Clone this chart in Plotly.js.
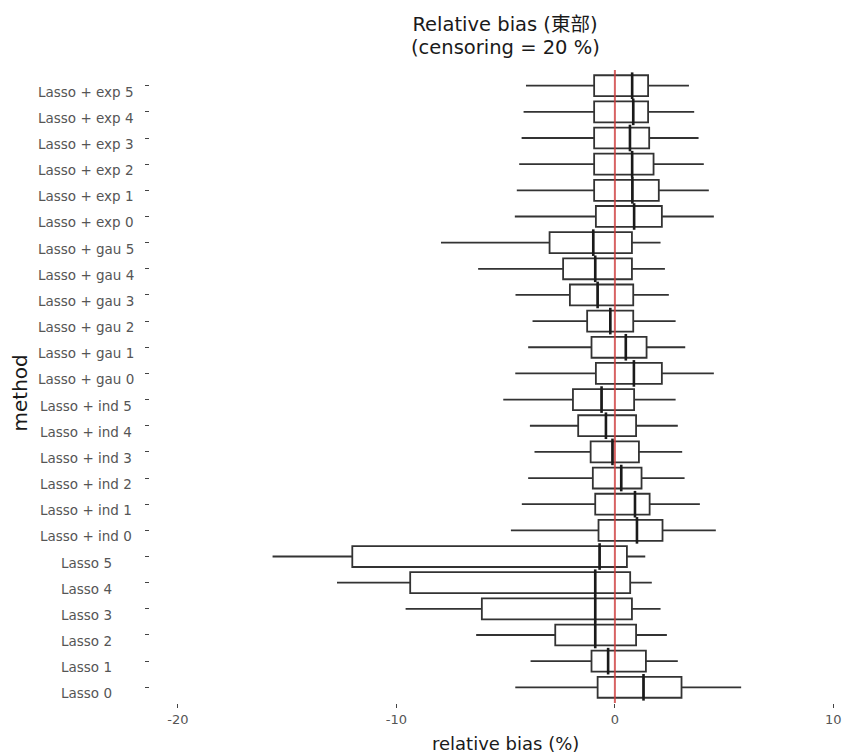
<!DOCTYPE html>
<html>
<head>
<meta charset="utf-8">
<script src="https://cdn.plot.ly/plotly-3.0.1.min.js"></script>
<style>html,body{margin:0;padding:0;background:#fff;}#chart{width:843px;height:754px;}</style>
</head>
<body>
<div id="chart"></div>
<script>
// Categories from bottom to top
const methods = [
  "Lasso 0","Lasso 1","Lasso 2","Lasso 3","Lasso 4","Lasso 5",
  "Lasso + ind 0","Lasso + ind 1","Lasso + ind 2","Lasso + ind 3","Lasso + ind 4","Lasso + ind 5",
  "Lasso + gau 0","Lasso + gau 1","Lasso + gau 2","Lasso + gau 3","Lasso + gau 4","Lasso + gau 5",
  "Lasso + exp 0","Lasso + exp 1","Lasso + exp 2","Lasso + exp 3","Lasso + exp 4","Lasso + exp 5"
];
const lowerWhisker = [-4.56,-3.86,-6.35,-9.58,-12.72,-15.67,
  -4.76,-4.26,-3.97,-3.68,-3.89,-5.11,
  -4.56,-3.97,-3.77,-4.55,-6.26,-7.96,
  -4.58,-4.49,-4.38,-4.27,-4.18,-4.07];
const q1 = [-0.79,-1.07,-2.73,-6.09,-9.37,-12.02,
  -0.75,-0.90,-1.01,-1.11,-1.68,-1.92,
  -0.87,-1.07,-1.27,-2.06,-2.37,-2.99,
  -0.87,-0.95,-0.95,-0.95,-0.95,-0.95];
const medians = [1.31,-0.31,-0.90,-0.90,-0.90,-0.70,
  1.01,0.92,0.29,-0.11,-0.41,-0.61,
  0.87,0.50,-0.21,-0.79,-0.90,-0.99,
  0.88,0.80,0.79,0.69,0.84,0.79];
const q3 = [3.05,1.42,0.97,0.78,0.70,0.55,
  2.18,1.59,1.22,1.10,0.97,0.88,
  2.15,1.45,0.84,0.84,0.78,0.78,
  2.15,2.01,1.77,1.57,1.52,1.52];
const upperWhisker = [5.78,2.88,2.38,2.09,1.69,1.39,
  4.62,3.89,3.19,3.08,2.88,2.78,
  4.53,3.22,2.78,2.47,2.29,2.09,
  4.53,4.30,4.07,3.83,3.63,3.39];
const xTicks = [-20,-10,0,10];
const referenceLine = 0;
const titleLine1 = 'Relative bias (東部)';
const titleLine2 = '(censoring = 20 %)';
const xTitle = 'relative bias (%)';
const yTitle = 'method';

const fontFam = "'DejaVu Sans', 'Noto Sans CJK TC', sans-serif";

const boxTrace = {
  type: 'box',
  orientation: 'h',
  y: methods,
  q1: q1,
  median: medians,
  q3: q3,
  lowerfence: lowerWhisker,
  upperfence: upperWhisker,
  boxpoints: false,
  whiskerwidth: 0,
  width: 0.8,
  fillcolor: '#ffffff',
  line: {color: '#333333', width: 1.8},
  showlegend: false,
  hoverinfo: 'skip'
};
const medianTrace = {
  type: 'scatter',
  mode: 'markers',
  x: medians,
  y: methods,
  marker: {symbol: 'line-ns', size: 19, line: {color: '#1a1a1a', width: 2.6}},
  showlegend: false,
  hoverinfo: 'skip'
};

const labelAnns = methods.map(m => ({
  text: m, xref: 'paper', yref: 'y', x: -0.0926, y: m, yshift: -6,
  xanchor: 'center', yanchor: 'middle', showarrow: false,
  font: {family: fontFam, size: 13.5, color: '#555555'}
}));

const layout = {
  width: 843, height: 754,
  margin: {l: 150, r: 2, t: 70, b: 51},
  paper_bgcolor: '#ffffff', plot_bgcolor: '#ffffff',
  font: {family: fontFam},
  title: {
    text: titleLine1,
    font: {family: fontFam, size: 19.5, color: '#1a1a1a'},
    xref: 'container', x: 505/843, xanchor: 'center',
    yref: 'container', y: 1 - 24/754, yanchor: 'middle'
  },
  xaxis: {
    range: [-21.28, 10.35],
    tickvals: xTicks, ticktext: xTicks.map(String),
    ticks: 'outside', ticklen: 4, tickwidth: 1, tickcolor: '#444',
    showgrid: false, zeroline: false, showline: false,
    tickfont: {family: fontFam, size: 13, color: '#555555'}
  },
  yaxis: {
    type: 'category',
    categoryorder: 'array', categoryarray: methods,
    range: [-0.6, methods.length - 0.4],
    ticks: 'outside', ticklen: 4, tickwidth: 1, tickcolor: '#444',
    showticklabels: false,
    showgrid: false, zeroline: false, showline: false
  },
  shapes: [{
    type: 'line', xref: 'x', yref: 'paper', x0: referenceLine, x1: referenceLine, y0: 0, y1: 1,
    line: {color: 'rgba(205,60,60,0.8)', width: 2}, layer: 'above'
  }],
  annotations: labelAnns.concat([
    {text: titleLine2, xref: 'paper', yref: 'paper', x: (505-150)/691, y: (703-48)/633,
     xanchor: 'center', yanchor: 'middle', showarrow: false,
     font: {family: fontFam, size: 19.5, color: '#1a1a1a'}},
    {text: xTitle, xref: 'paper', yref: 'paper', x: (505-150)/691, y: (703-743)/633,
     xanchor: 'center', yanchor: 'middle', showarrow: false,
     font: {family: fontFam, size: 18, color: '#1a1a1a'}},
    {text: yTitle, xref: 'paper', yref: 'paper', x: (19.5-150)/691, y: (703-393)/633,
     xanchor: 'center', yanchor: 'middle', showarrow: false, textangle: -90,
     font: {family: fontFam, size: 20, color: '#1a1a1a'}}
  ])
};

Plotly.newPlot('chart', [boxTrace, medianTrace], layout, {displayModeBar: false, staticPlot: true});
</script>
</body>
</html>
